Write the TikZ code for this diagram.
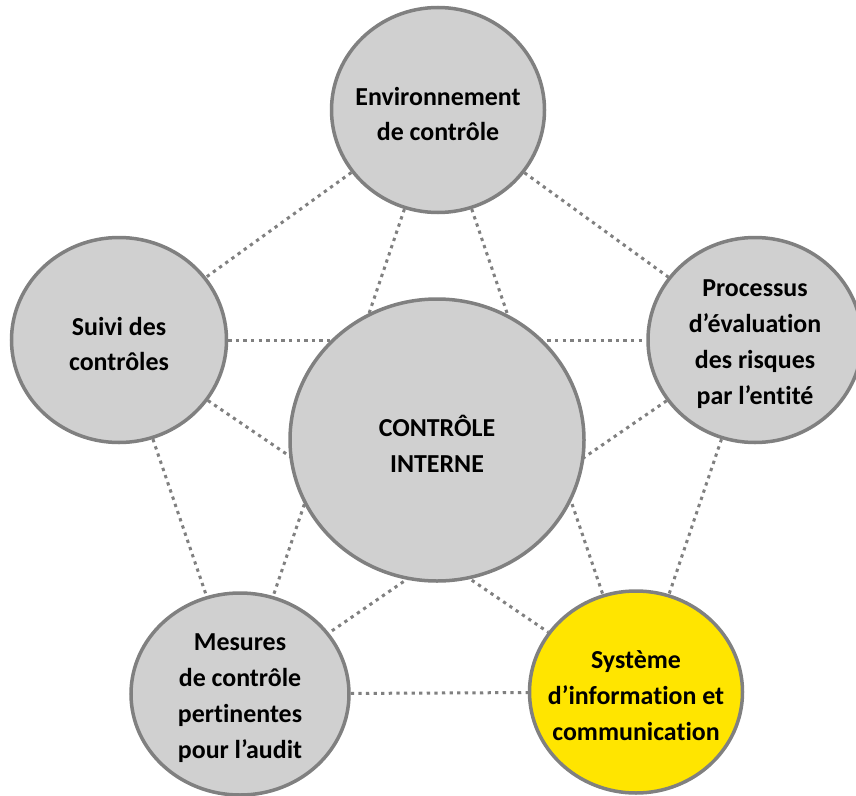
\documentclass[tikz,border=0pt]{standalone}
\usepackage{fontspec}
\setmainfont{Carlito}[Ligatures=NoCommon]
\usetikzlibrary{shapes.geometric,backgrounds}

\definecolor{gris}{HTML}{D0D0D0}
\definecolor{bord}{HTML}{808080}
\definecolor{jaune}{HTML}{FFE500}

\begin{document}
\begin{tikzpicture}[x=1bp,y=-1bp,
  texte/.style={align=center,inner sep=0pt,yshift=-4bp,font=\fontsize{26}{36}\selectfont\bfseries},
  bloc/.style={ellipse,draw=bord,line width=3.5bp,fill=gris,inner sep=0pt,
    label={[texte]center:{#1}}},
  lien/.style={draw=bord,line width=3bp,dash pattern=on 3.3bp off 4.3bp}]
  \useasboundingbox (0,0) rectangle (856,796);
  % les cinq composantes
  \node[bloc={Environnement\\de contrôle},minimum width=213bp,minimum height=205bp] (env) at (438,110) {};
  \node[bloc={Suivi des\\contrôles},minimum width=215bp,minimum height=205bp] (suivi) at (119,340) {};
  \node[bloc={Processus\\d’évaluation\\des risques\\par l’entité},minimum width=214bp,minimum height=205bp] (risques) at (755,340) {};
  \node[bloc={Mesures\\de contrôle\\pertinentes\\pour l’audit},minimum width=218bp,minimum height=202bp] (mesures) at (240,694) {};
  \node[bloc={Système\\d’information et\\communication},fill=jaune,minimum width=213bp,minimum height=202bp] (si) at (636,692) {};
  % au centre
  \node[bloc={CONTRÔLE\\INTERNE},minimum width=294bp,minimum height=282bp] (ci) at (437,440) {};
  % liens en pointillé, derrière les cercles
  \begin{pgfonlayer}{background}
    \foreach \a/\b in {env/suivi,env/risques,suivi/mesures,risques/si,mesures/si,
                       env/mesures,env/si,suivi/risques,suivi/si,risques/mesures}
      \draw[lien] (\a) -- (\b);
  \end{pgfonlayer}
\end{tikzpicture}
\end{document}
